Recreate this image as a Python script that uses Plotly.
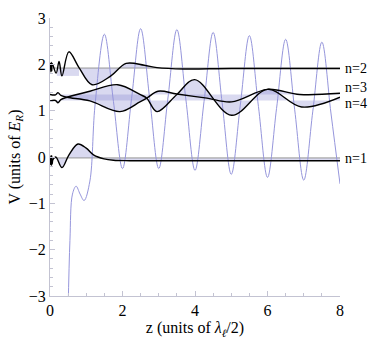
import plotly.graph_objects as go

# optical lattice potential near the surface
pot_z = [0.50, 0.55, 0.62, 0.72, 0.83, 0.94, 1.10, 1.24, 1.50, 1.75, 2.00, 2.25, 2.50, 2.75,
         3.00, 3.25, 3.50, 3.75, 4.00, 4.25, 4.50, 4.75, 5.00, 5.25, 5.50, 5.75, 6.00,
         6.25, 6.50, 6.75, 7.00, 7.25, 7.50, 7.75, 8.00]
pot_v = [-3.3, -1.8, -0.8, -0.63, -0.80, -0.94, -0.52, 1.10, 2.65, 1.20, -0.25, 1.26, 2.77,
         1.26, -0.25, 1.25, 2.75, 1.23, -0.29, 1.20, 2.69, 1.16, -0.375, 1.12, 2.62, 1.09,
         -0.44, 1.05, 2.54, 1.02, -0.50, 0.99, 2.48, 0.95, -0.58]

# states, each drawn at its energy
psi1_z = [0.0, 0.012, 0.024, 0.036, 0.048, 0.06, 0.08, 0.16, 0.33, 0.52, 0.77, 1.0, 1.21,
          1.49, 1.75, 2.2, 8.0]
psi1_v = [-0.06, -0.16, 0.02, -0.18, 0.03, -0.15, -0.06, 0.0, -0.23, 0.04, 0.28, 0.19, 0.04,
          -0.04, -0.07, -0.08, -0.08]

psi2_z = [0.0, 0.012, 0.024, 0.036, 0.048, 0.06, 0.17, 0.25, 0.33, 0.52, 0.8, 1.16, 1.68,
          2.1, 2.6, 2.95, 3.7, 5.0, 8.0]
psi2_v = [1.92, 2.02, 1.84, 2.04, 1.86, 2.02, 1.81, 2.06, 1.75, 2.27, 1.93, 1.56, 1.75,
          2.02, 1.98, 1.93, 1.90, 1.91, 1.91]

psi3_z = [0.0, 0.15, 0.22, 0.3, 0.47, 1.10, 1.93, 2.48, 2.67, 2.98, 3.5, 4.33, 5.01,
          6.0, 6.89, 8.0]
psi3_v = [1.35, 1.34, 1.39, 1.33, 1.29, 1.21, 0.98, 1.19, 1.27, 1.42, 1.36, 1.27, 1.19,
          1.46, 1.35, 1.375]

psi4_z = [0.0, 0.15, 0.22, 0.3, 0.47, 1.10, 1.87, 2.48, 2.67, 2.95, 3.5, 3.99, 5.01,
          6.0, 6.94, 8.0]
psi4_v = [1.21, 1.22, 1.17, 1.24, 1.29, 1.42, 1.56, 1.35, 1.27, 0.98, 1.35, 1.67, 0.90,
          1.46, 1.08, 1.29]

levels = [-0.02, 1.92, 1.35, 1.22]          # n=1..4
n2_band_z = [0.19, 0.8]
n2_band_v = [1.75, 1.92]

state_names = ["n=1", "n=2", "n=3", "n=4"]
label_v = [-0.04, 1.92, 1.49, 1.16]

FILL = "rgba(140,140,210,0.33)"
SERIF = "Liberation Serif"

fig = go.Figure()

states = [(psi1_z, psi1_v), (psi2_z, psi2_v), (psi3_z, psi3_v), (psi4_z, psi4_v)]

# fills between each state and its energy
for i, (zz, vv) in enumerate(states):
    e = levels[i]
    if i == 1:
        k = zz.index(0.8)
        zz, vv = zz[k:], vv[k:]
    fig.add_trace(go.Scatter(x=[zz[0], zz[-1]], y=[e, e], mode="lines",
                             line=dict(width=0), hoverinfo="skip"))
    fig.add_trace(go.Scatter(x=zz, y=vv, mode="lines", fill="tonexty", fillcolor=FILL,
                             line=dict(width=0, shape="spline"), hoverinfo="skip"))

fig.add_trace(go.Scatter(x=[n2_band_z[0], n2_band_z[1], n2_band_z[1], n2_band_z[0]],
                         y=[n2_band_v[0], n2_band_v[0], n2_band_v[1], n2_band_v[1]],
                         mode="lines", fill="toself", fillcolor=FILL, line=dict(width=0)))

# energy lines for n=1, n=2
for e in levels[:2]:
    fig.add_trace(go.Scatter(x=[0, 8], y=[e, e], mode="lines",
                             line=dict(color="rgb(150,150,150)", width=1)))

fig.add_trace(go.Scatter(x=pot_z, y=pot_v, mode="lines",
                         line=dict(color="rgb(150,150,220)", width=1, shape="spline")))

for zz, vv in states:
    fig.add_trace(go.Scatter(x=zz, y=vv, mode="lines",
                             line=dict(color="black", width=1.4, shape="spline")))

for name, v in zip(state_names, label_v):
    fig.add_annotation(x=8, y=v, text=name, showarrow=False, xanchor="left", xshift=3,
                       font=dict(family=SERIF, size=14, color="black"))

axis_common = dict(showline=True, linecolor="rgb(195,195,210)", linewidth=1,
                   ticks="inside", ticklen=5, tickcolor="rgb(195,195,210)",
                   showgrid=False, zeroline=False,
                   tickfont=dict(family=SERIF, size=16, color="black"))

fig.update_xaxes(range=[0, 8], tickvals=[0, 2, 4, 6, 8],
                 minor=dict(dtick=0.5, ticks="inside", ticklen=3,
                            tickcolor="rgb(195,195,210)"),
                 title=dict(text="z (units of <i>λ</i><sub><i>ℓ</i></sub>/2)",
                            font=dict(family=SERIF, size=16, color="black"), standoff=3),
                 **axis_common)
fig.update_yaxes(range=[-3, 3], dtick=1,
                 minor=dict(dtick=0.2, ticks="inside", ticklen=3,
                            tickcolor="rgb(195,195,210)"),
                 title=dict(text="V (units of <i>E</i><sub><i>R</i></sub>)",
                            font=dict(family=SERIF, size=16, color="black"), standoff=4),
                 **axis_common)

fig.update_layout(width=374, height=343, margin=dict(l=50, r=34, t=10, b=43),
                  plot_bgcolor="white", paper_bgcolor="white", showlegend=False)

fig.write_html("out.html", config={"displayModeBar": False},
               post_script="document.body.style.margin='0';")
